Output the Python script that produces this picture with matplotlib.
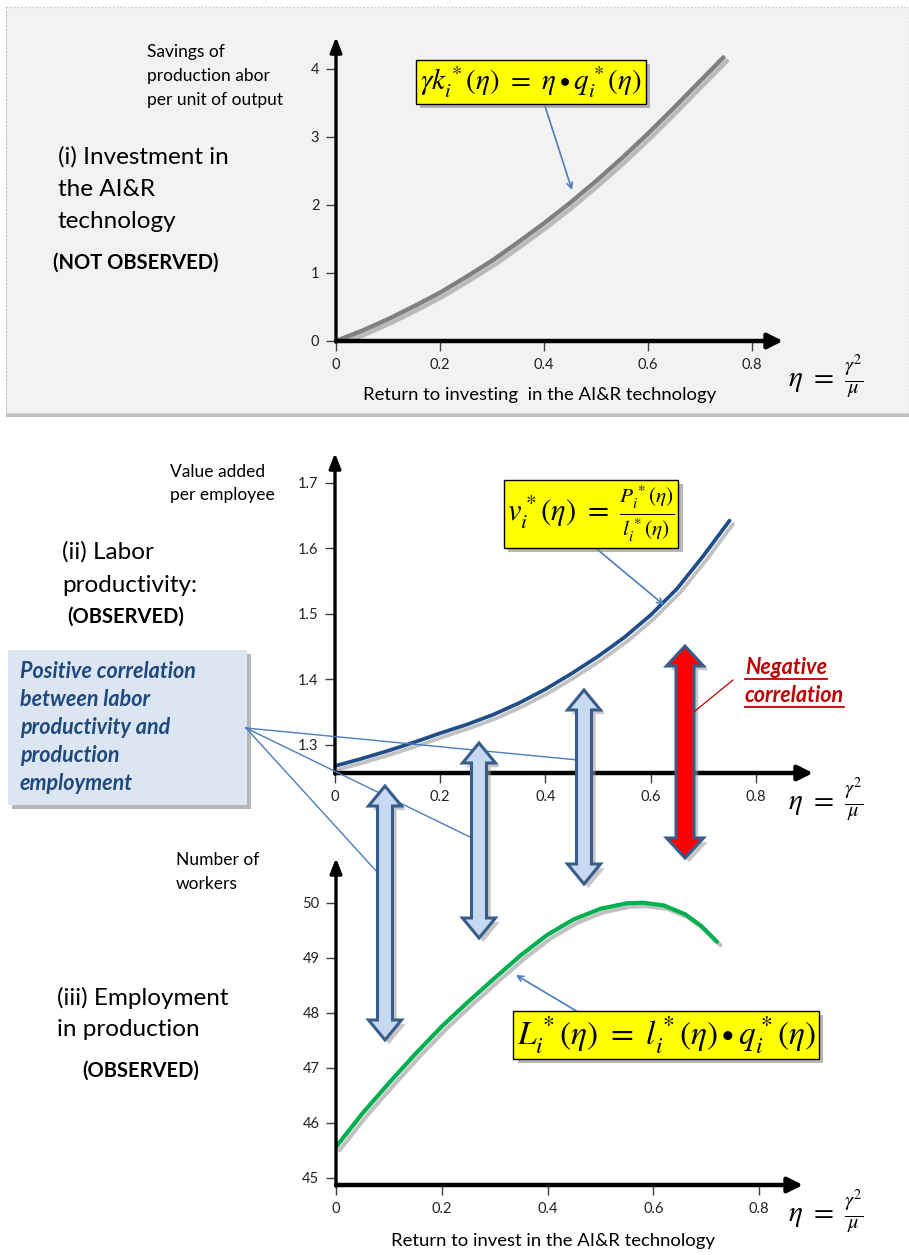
import numpy as np
import matplotlib
matplotlib.use('Agg')
import matplotlib.pyplot as plt
from matplotlib import patheffects as pe
from matplotlib.patches import Rectangle, Polygon

plt.rcParams['font.family'] = ['Lato', 'DejaVu Sans']
plt.rcParams['mathtext.fontset'] = 'stix'

# ---------------- data ----------------
eta_k = [0, 0.05, 0.1, 0.15, 0.2, 0.25, 0.3, 0.35, 0.4, 0.45, 0.5, 0.55, 0.6, 0.65, 0.7, 0.745]
savings = [0, 0.15, 0.32, 0.51, 0.71, 0.94, 1.18, 1.45, 1.73, 2.03, 2.35, 2.69, 3.05, 3.43, 3.82, 4.17]

eta_v = [0, 0.05, 0.1, 0.15, 0.2, 0.25, 0.3, 0.35, 0.4, 0.45, 0.5, 0.55, 0.6, 0.65, 0.7, 0.75]
value_added = [1.268, 1.279, 1.291, 1.304, 1.318, 1.331, 1.346, 1.364, 1.385, 1.409,
               1.435, 1.464, 1.498, 1.538, 1.588, 1.642]

eta_L = [0, 0.05, 0.1, 0.15, 0.2, 0.25, 0.3, 0.35, 0.4, 0.45, 0.5, 0.55, 0.58, 0.62,
         0.66, 0.69, 0.72]
workers = [45.56, 46.17, 46.72, 47.25, 47.75, 48.2, 48.63, 49.05, 49.42, 49.7, 49.89,
           49.99, 50.0, 49.95, 49.79, 49.58, 49.29]

x_ticks = [0, 0.2, 0.4, 0.6, 0.8]
x_ticklabels = ['0', '0.2', '0.4', '0.6', '0.8']
k_ticks = [0, 1, 2, 3, 4]
k_ticklabels = ['0', '1', '2', '3', '4']
v_ticks = [1.3, 1.4, 1.5, 1.6, 1.7]
v_ticklabels = ['1.3', '1.4', '1.5', '1.6', '1.7']
L_ticks = [45, 46, 47, 48, 49, 50]
L_ticklabels = ['45', '46', '47', '48', '49', '50']

W, H = 909, 1255
fig = plt.figure(figsize=(W / 100, H / 100), dpi=100)
fig.patch.set_facecolor('white')

# background layer (pixel coordinates, y downwards)
bg = fig.add_axes([0, 0, 1, 1], zorder=0)
bg.set_xlim(0, W); bg.set_ylim(H, 0); bg.axis('off')

# overlay layer
ov = fig.add_axes([0, 0, 1, 1], zorder=3)
ov.set_xlim(0, W); ov.set_ylim(H, 0); ov.axis('off')
ov.patch.set_visible(False)

# grey panel behind chart (i)
gbox = Rectangle((6, 7), 903, 406, facecolor='#f2f2f2', edgecolor='#c8c8c8',
                 lw=1, linestyle=':')
gbox.set_path_effects([pe.SimplePatchShadow(offset=(0, -3), shadow_rgbFace='#999999', alpha=0.6),
                       pe.Normal()])
bg.add_patch(gbox)

shadow = [pe.SimpleLineShadow(offset=(2.5, -2.5), shadow_color='#777777', alpha=0.45),
          pe.Normal()]


def make_panel(x0, x_unit, xend, yaxis, y_ref_px, y_ref_val, y_unit, ytop):
    left = x0 / W
    bottom = 1 - yaxis / H
    width = (xend - x0) / W
    height = (yaxis - ytop) / H
    ax = fig.add_axes([left, bottom, width, height], zorder=1)
    ax.patch.set_visible(False)
    ax.set_xlim(0, (xend - x0) / x_unit)
    ax.set_ylim(y_ref_val - (yaxis - y_ref_px) / y_unit,
                y_ref_val + (y_ref_px - ytop) / y_unit)
    for s in ax.spines.values():
        s.set_visible(False)
    ax.tick_params(direction='out', length=7, width=1, color='#404040',
                   labelsize=10.5, labelcolor='#222222', pad=5)
    ax.annotate('', xy=(1, 0), xytext=(0, 0), xycoords='axes fraction',
                arrowprops=dict(arrowstyle='-|>,head_length=0.9,head_width=0.45',
                                lw=3.2, color='black', shrinkA=0, shrinkB=0))
    ax.annotate('', xy=(0, 1), xytext=(0, -0.004), xycoords='axes fraction',
                arrowprops=dict(arrowstyle='-|>,head_length=0.9,head_width=0.35',
                                lw=2.4, color='black', shrinkA=0, shrinkB=0))
    ax.set_xticks(x_ticks)
    ax.set_xticklabels(x_ticklabels)
    return ax


# panel (i)
ax1 = make_panel(336, 520, 783, 341, 341, 0.0, 68, 37)
ax1.plot(eta_k, savings, color='#808080', lw=3.2, solid_capstyle='round', path_effects=shadow)
ax1.set_yticks(k_ticks); ax1.set_yticklabels(k_ticklabels)

# panel (ii)
ax2 = make_panel(335, 526, 813, 773, 745, 1.3, 656, 453)
ax2.plot(eta_v, value_added, color='#1f4e89', lw=2.7, solid_capstyle='round', path_effects=shadow)
ax2.set_yticks(v_ticks); ax2.set_yticklabels(v_ticklabels)

# panel (iii)
ax3 = make_panel(336, 529, 803, 1185, 1177.7, 45.0, 55, 858)
ax3.plot(eta_L, workers, color='#00b050', lw=3.0, solid_capstyle='round', path_effects=shadow)
ax3.set_yticks(L_ticks); ax3.set_yticklabels(L_ticklabels)


def lines(x, ys, texts, size, **kw):
    for y, t in zip(ys, texts):
        ov.text(x, y, t, fontsize=size, ha='left', va='center', **kw)


# ---- texts panel (i)
lines(147, [52, 76, 100], ['Savings of', 'production abor', 'per unit of output'], 12.5)
lines(58, [157, 190, 222], ['(i) Investment in', 'the AI&R', 'technology'], 17.5)
lines(53, [263], ['(NOT OBSERVED)'], 14.5, fontweight='bold')
ov.text(540, 395, 'Return to investing  in the AI&R technology', fontsize=13.3,
        ha='center', va='center')

eta_lbl = r'$\eta\ =\ \frac{\gamma^2}{\mu}$'
for yc in (377, 800, 1212):
    ov.text(826, yc, eta_lbl, fontsize=21, ha='center', va='center')

yellow = dict(boxstyle='square,pad=0.18', facecolor='#ffff00', edgecolor='black', lw=1)


def ybox(x, y, s, size, pad=0.18):
    st = dict(yellow)
    st['boxstyle'] = 'square,pad=%g' % pad
    t = ov.text(x, y, s, fontsize=size, ha='center', va='center', bbox=st, zorder=6)
    t.get_bbox_patch().set_path_effects(
        [pe.SimplePatchShadow(offset=(3, -3), shadow_rgbFace='#888888', alpha=0.6), pe.Normal()])
    return t


ybox(531, 82, r'$\gamma k_i^*(\eta)\ =\ \eta\bullet q_i^*(\eta)$', 21, 0.15)
ov.annotate('', xy=(572, 190), xytext=(545, 106),
            arrowprops=dict(arrowstyle='->', color='#4a7ebb', lw=1.2, shrinkA=0, shrinkB=0))

# ---- texts panel (ii)
lines(170, [472, 495], ['Value added', 'per employee'], 12.5)
lines(62, [552, 585], ['(ii) Labor', 'productivity:'], 17.5)
lines(67, [617], ['(OBSERVED)'], 14.5, fontweight='bold')

ybox(591, 514, r'$v_i^*(\eta)\ =\ \frac{P_i^*(\eta)}{l_i^*(\eta)}$', 22, 0.12)
ov.annotate('', xy=(664, 605), xytext=(592, 545),
            arrowprops=dict(arrowstyle='->', color='#4a7ebb', lw=1.2, shrinkA=0, shrinkB=0))

# blue comment box
bbox_patch = Rectangle((8, 650), 239, 155, facecolor='#dce6f2', edgecolor='none', zorder=4)
bbox_patch.set_path_effects([pe.SimplePatchShadow(offset=(3, -3), shadow_rgbFace='#888888', alpha=0.6),
                             pe.Normal()])
ov.add_patch(bbox_patch)
lines(20, [672, 700, 728, 756, 784],
      ['Positive correlation', 'between labor', 'productivity and', 'production', 'employment'],
      15.5, fontweight='bold', fontstyle='italic', color='#1f497d', zorder=5)
for (xe, ye) in [(578, 760), (472, 838), (378, 873)]:
    ov.plot([246, xe], [728, ye], color='#4a7ebb', lw=1, zorder=4)


# double arrows
def darrow(x, ytop, ybot, face, bw, hw, hl=20):
    verts = [(x, ytop), (x + hw, ytop + hl), (x + bw, ytop + hl), (x + bw, ybot - hl),
             (x + hw, ybot - hl), (x, ybot), (x - hw, ybot - hl), (x - bw, ybot - hl),
             (x - bw, ytop + hl), (x - hw, ytop + hl)]
    p = Polygon(verts, closed=True, facecolor=face, edgecolor='#385d8a', lw=2.2,
                joinstyle='miter', zorder=5)
    p.set_path_effects([pe.SimplePatchShadow(offset=(3, -3), shadow_rgbFace='#999999', alpha=0.55),
                        pe.Normal()])
    ov.add_patch(p)


darrow(385, 786, 1040, '#c6d9f0', 7.5, 16.5)
darrow(479, 743, 938, '#c6d9f0', 7.5, 16.5)
darrow(584, 690, 884, '#c6d9f0', 7.5, 16.5)
darrow(685, 646, 858, '#ff0000', 9, 18.5)

# negative correlation label
neg = []
for y, s in zip([667, 695], ['Negative', 'correlation']):
    neg.append(ov.text(745, y, s, fontsize=15.5, ha='left', va='center', fontweight='bold',
                       fontstyle='italic', color='#c00000'))
ov.plot([695, 733], [711, 680], color='#c00000', lw=0.9, zorder=6)

# ---- texts panel (iii)
lines(176, [860, 884], ['Number of', 'workers'], 12.5)
lines(57, [998, 1030], ['(iii) Employment', 'in production'], 17.5)
lines(82, [1071], ['(OBSERVED)'], 14.5, fontweight='bold')
ybox(666, 1035, r'$L_i^*(\eta)\ =\ l_i^*(\eta)\bullet q_i^*(\eta)$', 24, 0.1)
ov.annotate('', xy=(516, 975), xytext=(578, 1012),
            arrowprops=dict(arrowstyle='->', color='#4a7ebb', lw=1.2, shrinkA=0, shrinkB=0))
ov.text(553, 1241, 'Return to invest in the AI&R technology', fontsize=13.3,
        ha='center', va='center')

# underline the red label
fig.canvas.draw()
for t in neg:
    bb = t.get_window_extent()
    yline = H - bb.y0 + 1
    ov.plot([bb.x0, bb.x1], [yline, yline], color='#c00000', lw=1.3, zorder=6)

fig.savefig('out.png', dpi=100)
